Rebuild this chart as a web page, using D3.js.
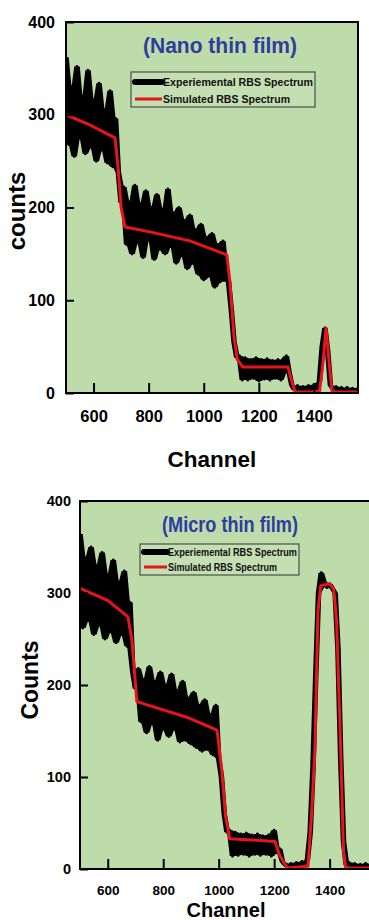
<!DOCTYPE html>
<html>
<head>
<meta charset="utf-8">
<script src="https://cdn.jsdelivr.net/npm/d3@7"></script>
<style>
  body { margin: 0; background: #fff; }
  svg { display: block; }
  text { font-family: "Liberation Sans", Arial, sans-serif; font-weight: bold; }
</style>
</head>
<body>
<div id="chart"></div>
<script>
// Axis ticks
const channelTicks = [600, 800, 1000, 1200, 1400];
const countTicks = [0, 100, 200, 300, 400];

// Experimental spectra, sampled every 10 channels from 500 to 1560
const expChannels = d3.range(500, 1561, 10);

const nanoExp = [
  362, 268, 330, 255, 352, 275, 320, 258, 348, 265,
  316, 250, 334, 262, 305, 248, 326, 244, 296, 238,
  205, 222, 160, 206, 150, 224, 162, 204, 146, 218,
  165, 200, 144, 214, 155, 198, 150, 220, 158, 194,
  140, 200, 148, 186, 134, 192, 140, 176, 128, 182,
  122, 168, 126, 172, 114, 160, 120, 164, 130, 120,
  90, 55, 38, 40, 14, 38, 14, 36, 16, 38,
  13, 36, 15, 37, 14, 35, 16, 36, 14, 35,
  40, 22, 8, 3, 8, 2, 7, 2, 8, 3,
  9, 4, 12, 50, 70, 45, 8, 4, 7, 2,
  6, 3, 6, 2, 5, 3, 5
];

const microExp = [
  364, 262, 338, 270, 350, 255, 330, 265, 344, 250,
  320, 258, 336, 246, 312, 255, 324, 242, 290, 215,
  196, 218, 160, 206, 148, 220, 158, 204, 140, 214,
  152, 200, 144, 212, 152, 194, 138, 204, 140, 186,
  136, 192, 132, 178, 128, 184, 130, 168, 124, 178,
  120, 100, 60, 40, 42, 14, 40, 15, 38, 16,
  39, 14, 37, 16, 38, 15, 36, 16, 37, 14,
  42, 18, 22, 8, 4, 2, 6, 2, 7, 3,
  8, 5, 10, 40, 110, 210, 300, 322, 312, 306,
  310, 305, 300, 240, 120, 30, 4, 7, 2, 6,
  3, 5, 2, 6, 3, 5, 3
];

// Simulated spectra (breakpoints)
const nanoSimChannels = [500, 580, 678, 690, 700, 714, 800, 950, 1084, 1095, 1110, 1122, 1142, 1306, 1320, 1332, 1420, 1432, 1444, 1456, 1466, 1560];
const nanoSimCounts   = [300, 290, 275, 240, 200, 179, 174, 164, 149, 120, 60, 36, 28, 28, 12, 1, 1, 30, 70, 30, 1, 1];

const microSimChannels = [500, 600, 673, 687, 705, 885, 994, 1011, 1025, 1040, 1203, 1220, 1239, 1250, 1322, 1335, 1347, 1358, 1368, 1400, 1415, 1425, 1438, 1450, 1458, 1560];
const microSimCounts   = [305, 292, 274, 249, 182, 165, 151, 108, 57, 33, 30, 15, 5, 1, 3, 60, 130, 280, 308, 310, 304, 270, 150, 20, 1, 1];

const W = 369, H = 920;
const svg = d3.select("#chart").append("svg")
  .attr("width", W).attr("height", H)
  .attr("viewBox", `0 0 ${W} ${H}`);

function drawPanel(p) {
  const x = d3.scaleLinear().domain([500, 1560]).range([p.left, p.right]);
  const y = d3.scaleLinear().domain([0, 400]).range([p.bottom, p.top]);

  const g = svg.append("g");

  // plot background
  g.append("rect")
    .attr("x", p.left).attr("y", p.top)
    .attr("width", p.right - p.left).attr("height", p.bottom - p.top)
    .attr("fill", "#bedcaa");

  svg.append("clipPath").attr("id", "clip-" + p.id)
    .append("rect")
    .attr("x", p.left).attr("y", p.top)
    .attr("width", p.right - p.left).attr("height", p.bottom - p.top);

  const data = g.append("g").attr("clip-path", `url(#clip-${p.id})`);

  // experimental spectrum: noise band (local min/max of neighbours) + trace
  const win = i => p.exp.slice(Math.max(0, i - 1), i + 2);
  const band = d3.area()
    .x((d, i) => x(expChannels[i]))
    .y0((d, i) => y(d3.min(win(i))))
    .y1((d, i) => y(d3.max(win(i))));
  data.append("path")
    .attr("d", band(p.exp))
    .attr("fill", "#000");

  const expLine = d3.line().x((d, i) => x(expChannels[i])).y(d => y(d));
  data.append("path")
    .attr("d", expLine(p.exp))
    .attr("fill", "none")
    .attr("stroke", "#000")
    .attr("stroke-width", 3)
    .attr("stroke-linejoin", "round");

  // simulated spectrum
  const simLine = d3.line().x((d, i) => x(p.simCh[i])).y(d => y(d));
  data.append("path")
    .attr("d", simLine(p.simCounts))
    .attr("fill", "none")
    .attr("stroke", "#e8141c")
    .attr("stroke-width", 3)
    .attr("stroke-linejoin", "round");

  // axes (inward ticks)
  const xAxis = g.append("g")
    .attr("transform", `translate(0,${p.bottom})`)
    .call(d3.axisBottom(x).tickValues(channelTicks).tickFormat(d3.format("d"))
      .tickSize(-10).tickSizeOuter(0).tickPadding(p.xPad));
  const yAxis = g.append("g")
    .attr("transform", `translate(${p.left},0)`)
    .call(d3.axisLeft(y).tickValues(countTicks).tickFormat(d3.format("d"))
      .tickSize(-8).tickSizeOuter(0).tickPadding(p.yPad));

  [xAxis, yAxis].forEach(a => {
    a.select(".domain").remove();
    a.selectAll(".tick line").attr("stroke", "#000").attr("stroke-width", 2);
    a.selectAll(".tick text").attr("fill", "#000").attr("font-family", null);
  });
  xAxis.selectAll(".tick text").attr("font-size", p.xFont);
  yAxis.selectAll(".tick text").attr("font-size", p.yFont);

  // frame
  g.append("rect")
    .attr("x", p.left).attr("y", p.top)
    .attr("width", p.right - p.left).attr("height", p.bottom - p.top)
    .attr("fill", "none").attr("stroke", "#000").attr("stroke-width", 2);

  // title
  g.append("text")
    .attr("x", p.titleX).attr("y", p.titleY)
    .attr("text-anchor", "middle")
    .attr("font-size", 22)
    .attr("fill", "#2e3d9f")
    .attr("textLength", p.titleLen).attr("lengthAdjust", "spacingAndGlyphs")
    .text(p.title);

  // legend
  const L = p.legend;
  g.append("rect")
    .attr("x", L.x).attr("y", L.y).attr("width", L.w).attr("height", L.h)
    .attr("fill", "#c4e0b3").attr("stroke", "#333").attr("stroke-width", 1);
  g.append("line")
    .attr("x1", L.lx1).attr("x2", L.lx2).attr("y1", L.y1).attr("y2", L.y1)
    .attr("stroke", "#000").attr("stroke-width", 6).attr("stroke-linecap", "round");
  g.append("line")
    .attr("x1", L.lx1).attr("x2", L.lx2).attr("y1", L.y2).attr("y2", L.y2)
    .attr("stroke", "#e8141c").attr("stroke-width", 3);
  g.append("text")
    .attr("x", L.lx2 + 1).attr("y", L.y1 + 4)
    .attr("font-size", L.font).attr("fill", "#111")
    .attr("textLength", L.len1).attr("lengthAdjust", "spacingAndGlyphs")
    .text("Experiemental RBS Spectrum");
  g.append("text")
    .attr("x", L.lx2 + 1).attr("y", L.y2 + 4)
    .attr("font-size", L.font).attr("fill", "#111")
    .attr("textLength", L.len2).attr("lengthAdjust", "spacingAndGlyphs")
    .text("Simulated RBS Spectrum");

  // axis titles
  g.append("text")
    .attr("x", p.xTitleX).attr("y", p.xTitleY)
    .attr("text-anchor", "middle")
    .attr("font-size", p.xTitleFont)
    .text("Channel");
  g.append("text")
    .attr("transform", `translate(${p.yTitleX},${p.yTitleY}) rotate(-90)`)
    .attr("text-anchor", "middle")
    .attr("font-size", p.yTitleFont)
    .text(p.yTitle);
}

drawPanel({
  id: "nano", left: 66, right: 358, top: 22, bottom: 393,
  exp: nanoExp, simCh: nanoSimChannels, simCounts: nanoSimCounts,
  xPad: 17, yPad: 11, xFont: 16.5, yFont: 16,
  title: "(Nano thin film)", titleX: 220, titleY: 53, titleLen: 154,
  legend: { x: 131, y: 72, w: 184, h: 35, lx1: 135, lx2: 162, y1: 82, y2: 99, font: 11.5, len1: 150, len2: 127 },
  xTitleX: 212, xTitleY: 467, xTitleFont: 22.5,
  yTitle: "counts", yTitleX: 25, yTitleY: 211, yTitleFont: 24
});

drawPanel({
  id: "micro", left: 80, right: 374, top: 501, bottom: 869,
  exp: microExp, simCh: microSimChannels, simCounts: microSimCounts,
  xPad: 16, yPad: 9, xFont: 13.5, yFont: 14.5,
  title: "(Micro thin film)", titleX: 230, titleY: 532, titleLen: 136,
  legend: { x: 140, y: 544, w: 159, h: 31, lx1: 144, lx2: 167, y1: 552, y2: 567, font: 10.5, len1: 129, len2: 109 },
  xTitleX: 226, xTitleY: 917, xTitleFont: 20,
  yTitle: "Counts", yTitleX: 38, yTitleY: 680, yTitleFont: 23
});
</script>
</body>
</html>
